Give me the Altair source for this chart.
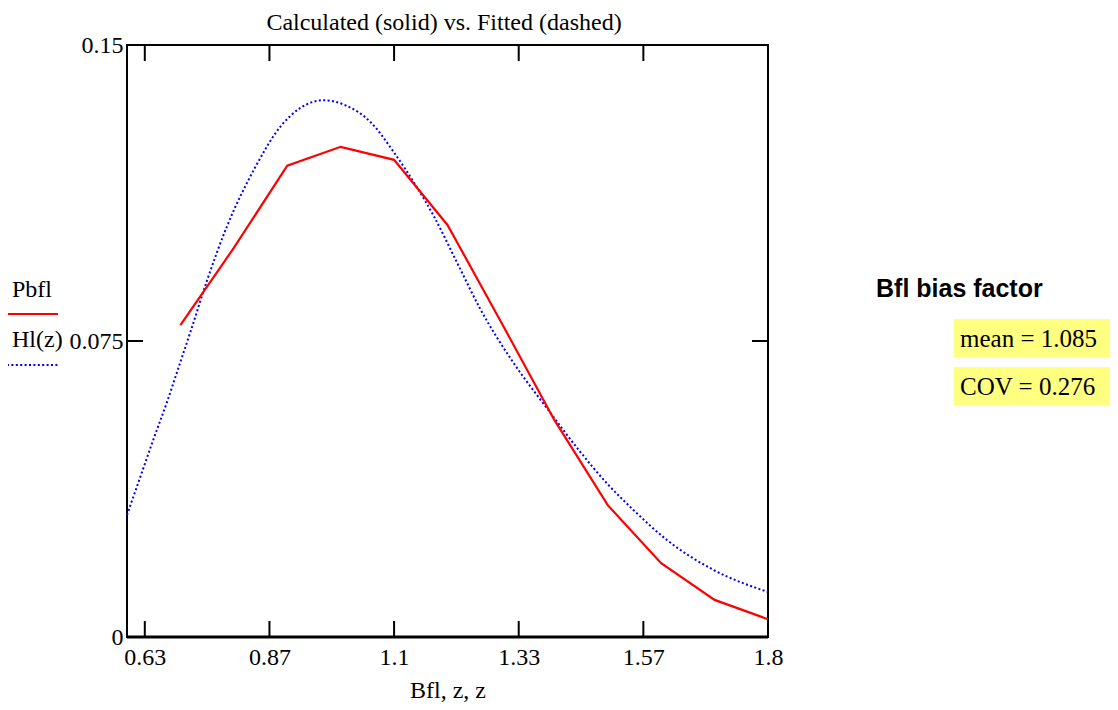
import altair as alt
import pandas as pd

# ---- data ----
bfl = [0.7, 0.8, 0.9, 1.0, 1.1, 1.2, 1.3, 1.4, 1.5, 1.6, 1.7, 1.8]
pbfl = [0.0790, 0.0986, 0.1194, 0.1242, 0.1209, 0.1044, 0.0799, 0.0550,
        0.0334, 0.0187, 0.0094, 0.0045]

z = [0.600, 0.624, 0.649, 0.674, 0.699, 0.719, 0.749, 0.787, 0.840, 0.8865,
     0.924, 0.968, 1.011, 1.055, 1.0987, 1.1237, 1.1425, 1.1737, 1.2174,
     1.261, 1.3234, 1.386, 1.448, 1.498, 1.548, 1.6106, 1.698, 1.800]
hl = [0.0309, 0.0402, 0.0499, 0.0592, 0.0693, 0.0774, 0.0900, 0.1040, 0.1190,
      0.1292, 0.1340, 0.1360, 0.1346, 0.1306, 0.1230, 0.1180, 0.1140, 0.1068,
      0.0950, 0.0832, 0.0695, 0.0580, 0.0470, 0.0390, 0.0322, 0.0246, 0.0170,
      0.0114]

x_ticks = [0.63333, 0.86667, 1.1, 1.33333, 1.56667, 1.8]
y_ticks = [0.0, 0.075, 0.15]

title_text = "Calculated (solid) vs. Fitted (dashed)"
x_title = "Bfl, z, z"
legend_labels = ["Pbfl", "Hl(z)"]
panel_title = "Bfl bias factor"
stats = ["mean = 1.085", "COV = 0.276"]

SERIF = "Liberation Serif"
SANS = "Liberation Sans"
W, H = 641, 592
FS = 24

red_df = pd.DataFrame({"x": bfl, "y": pbfl})
blue_df = pd.DataFrame({"x": z, "y": hl})
xt_df = pd.DataFrame({"x": x_ticks})
yt_df = pd.DataFrame({"y": y_ticks})

xscale = alt.Scale(domain=[0.6, 1.8], nice=False, zero=False)
yscale = alt.Scale(domain=[0, 0.15], nice=False, zero=True)

x_axis = alt.Axis(values=x_ticks, format=".2~f", ticks=False, grid=False,
                  domain=False, labelFont=SERIF, labelFontSize=FS,
                  labelColor="black", labelPadding=8, labelFlush=False,
                  title=x_title, titleFont=SERIF, titleFontSize=FS,
                  titleFontWeight="normal", titleColor="black", titlePadding=9)
y_axis = alt.Axis(values=y_ticks, format="~g", ticks=False, grid=False,
                  domain=False, labelFont=SERIF, labelFontSize=FS,
                  labelColor="black", labelPadding=4, labelFlush=False,
                  title=None)

blue = alt.Chart(blue_df).mark_line(
    color="#0000ff", strokeWidth=2, strokeDash=[2, 2.4], interpolate="monotone"
).encode(x=alt.X("x:Q", scale=xscale, axis=x_axis),
         y=alt.Y("y:Q", scale=yscale, axis=y_axis))

red = alt.Chart(red_df).mark_line(color="#ff0000", strokeWidth=2.2).encode(
    x=alt.X("x:Q", scale=xscale), y=alt.Y("y:Q", scale=yscale))

tick_style = dict(color="black", strokeWidth=2)
xt_bottom = alt.Chart(xt_df).mark_rule(**tick_style).encode(
    x=alt.X("x:Q", scale=xscale), y=alt.value(H), y2=alt.value(H - 16))
xt_top = alt.Chart(xt_df).mark_rule(**tick_style).encode(
    x=alt.X("x:Q", scale=xscale), y=alt.value(0), y2=alt.value(16))
yt_left = alt.Chart(yt_df).mark_rule(**tick_style).encode(
    y=alt.Y("y:Q", scale=yscale), x=alt.value(0), x2=alt.value(16))
yt_right = alt.Chart(yt_df).mark_rule(**tick_style).encode(
    y=alt.Y("y:Q", scale=yscale), x=alt.value(W), x2=alt.value(W - 16))
bottom_line = alt.Chart(pd.DataFrame({"a": [0]})).mark_rule(
    color="black", strokeWidth=3).encode(
    x=alt.value(0), x2=alt.value(W), y=alt.value(H))


def text_layer(txt, x, y, font=SERIF, size=FS, weight="normal", align="left"):
    return alt.Chart(pd.DataFrame({"t": [txt]})).mark_text(
        font=font, fontSize=size, fontWeight=weight, align=align,
        baseline="middle", color="black"
    ).encode(text="t:N", x=alt.value(x), y=alt.value(y))


def seg(color, y, dash=None):
    kw = dict(color=color, strokeWidth=2)
    if dash:
        kw["strokeDash"] = dash
    return alt.Chart(pd.DataFrame({"a": [0]})).mark_rule(**kw).encode(
        x=alt.value(-120), x2=alt.value(-69), y=alt.value(y))


def box(y0, y1):
    return alt.Chart(pd.DataFrame({"a": [0]})).mark_rect(color="#ffff80").encode(
        x=alt.value(827), x2=alt.value(995), y=alt.value(y0), y2=alt.value(y1))


layers = [
    box(274, 312), box(322, 360),
    blue, red,
    xt_bottom, xt_top, yt_left, yt_right, bottom_line,
    text_layer(title_text, 317, -22, align="center"),
    text_layer(legend_labels[0], -115, 245),
    seg("#ff0000", 269),
    text_layer(legend_labels[1], -115, 295),
    seg("#0000ff", 320, dash=[2, 2.4]),
    text_layer(panel_title, 749, 244, font=SANS, size=25, weight="bold"),
    text_layer(stats[0], 833, 294, size=25),
    text_layer(stats[1], 833, 342, size=25),
]

chart = alt.layer(*layers).properties(
    width=W, height=H,
    autosize=alt.AutoSizeParams(type="none"),
    padding={"left": 119, "top": 37, "right": 342, "bottom": 66},
).configure_view(stroke="black", strokeWidth=2)

chart.save("out.html", embed_options={"renderer": "svg", "actions": False})
